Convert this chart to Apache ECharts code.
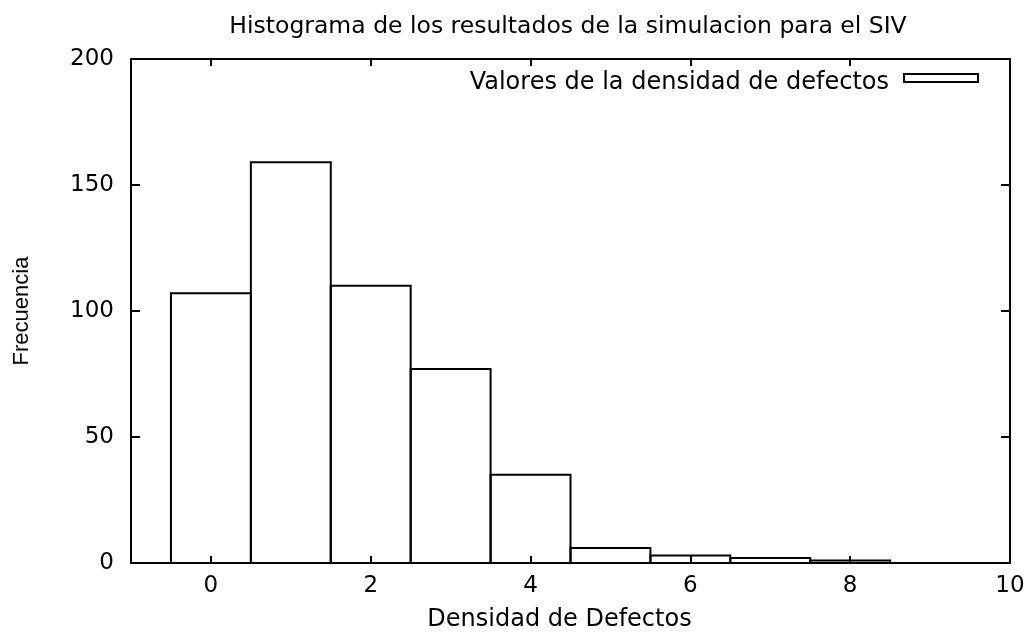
<!DOCTYPE html>
<html>
<head>
<meta charset="utf-8">
<script src="https://cdn.jsdelivr.net/npm/echarts@6/dist/echarts.min.js"></script>
<style>
  html, body { margin: 0; padding: 0; background: #fff; }
  #main { width: 1031px; height: 633px; }
</style>
</head>
<body>
<div id="main"></div>
<script>
// histogram bins (centre of each box) and counts
var bins = [0, 1, 2, 3, 4, 5, 6, 7, 8];
var counts = [107, 159, 110, 77, 35, 6, 3, 2, 1];
var xTicks = [0, 2, 4, 6, 8, 10];
var yTicks = [0, 50, 100, 150, 200];

var seriesName = 'Valores de la densidad de defectos';
var font = 'DejaVu Sans';

var boxes = bins.map(function (b, i) { return [b, counts[i]]; });

var chart = echarts.init(document.getElementById('main'));

var lineStyle = { color: '#000', width: 2 };

function mirrorX(show, pos) {
  return {
    type: 'value', min: -1, max: 10, position: pos,
    axisLine: { show: true, onZero: false, lineStyle: lineStyle },
    axisTick: { show: true, inside: true, length: 7, lineStyle: lineStyle, customValues: xTicks },
    axisLabel: { show: show, customValues: xTicks, margin: 12, color: '#000', fontFamily: font, fontSize: 23 },
    splitLine: { show: false }
  };
}
function mirrorY(show, pos) {
  return {
    type: 'value', min: 0, max: 200, interval: 50, position: pos,
    axisLine: { show: true, onZero: false, lineStyle: lineStyle },
    axisTick: { show: true, inside: true, length: 9, lineStyle: lineStyle },
    axisLabel: { show: show, margin: 17, color: '#000', fontFamily: font, fontSize: 23 },
    splitLine: { show: false }
  };
}

var xBottom = mirrorX(true, 'bottom');
xBottom.name = 'Densidad de Defectos';
xBottom.nameLocation = 'middle';
xBottom.nameGap = 45;
xBottom.nameTextStyle = { color: '#000', fontFamily: font, fontSize: 24, padding: [0, 22, 0, 0] };

var yLeft = mirrorY(true, 'left');
yLeft.name = 'Frecuencia';
yLeft.nameLocation = 'middle';
yLeft.nameGap = 98;
yLeft.nameTextStyle = { color: '#000', fontFamily: 'Liberation Sans', fontSize: 22 };

var option = {
  backgroundColor: '#fff',
  animation: false,
  title: {
    text: 'Histograma de los resultados de la simulacion para el SIV',
    left: 563, top: 10, textAlign: 'center',
    textStyle: { color: '#000', fontFamily: font, fontSize: 23.5, fontWeight: 'normal' }
  },
  grid: { left: 131, right: 21, top: 59, bottom: 70, outerBoundsMode: 'none' },
  legend: {
    right: 47, top: 66, align: 'right', itemGap: 14,
    itemWidth: 74, itemHeight: 8,
    formatter: '{a|{name}}',
    textStyle: {
      color: '#000', fontFamily: font, fontSize: 24, padding: [0, 10, 0, 0],
      rich: { a: { color: '#000', fontFamily: font, fontSize: 24, padding: [10, 0, 0, 0] } }
    },
    data: [{ name: seriesName, icon: 'rect',
      itemStyle: { color: '#fff', borderColor: '#000', borderWidth: 2 } }]
  },
  xAxis: [xBottom, mirrorX(false, 'top')],
  yAxis: [yLeft, mirrorY(false, 'right')],
  series: [{
    name: seriesName,
    type: 'custom',
    data: boxes,
    renderItem: function (params, api) {
      var x = api.value(0), y = api.value(1);
      var p0 = api.coord([x - 0.5, y]);
      var p1 = api.coord([x + 0.5, 0]);
      return {
        type: 'rect',
        shape: { x: p0[0], y: p0[1], width: p1[0] - p0[0], height: p1[1] - p0[1] },
        style: { fill: 'none', stroke: '#000', lineWidth: 2 }
      };
    }
  }]
};

chart.setOption(option);
</script>
</body>
</html>
